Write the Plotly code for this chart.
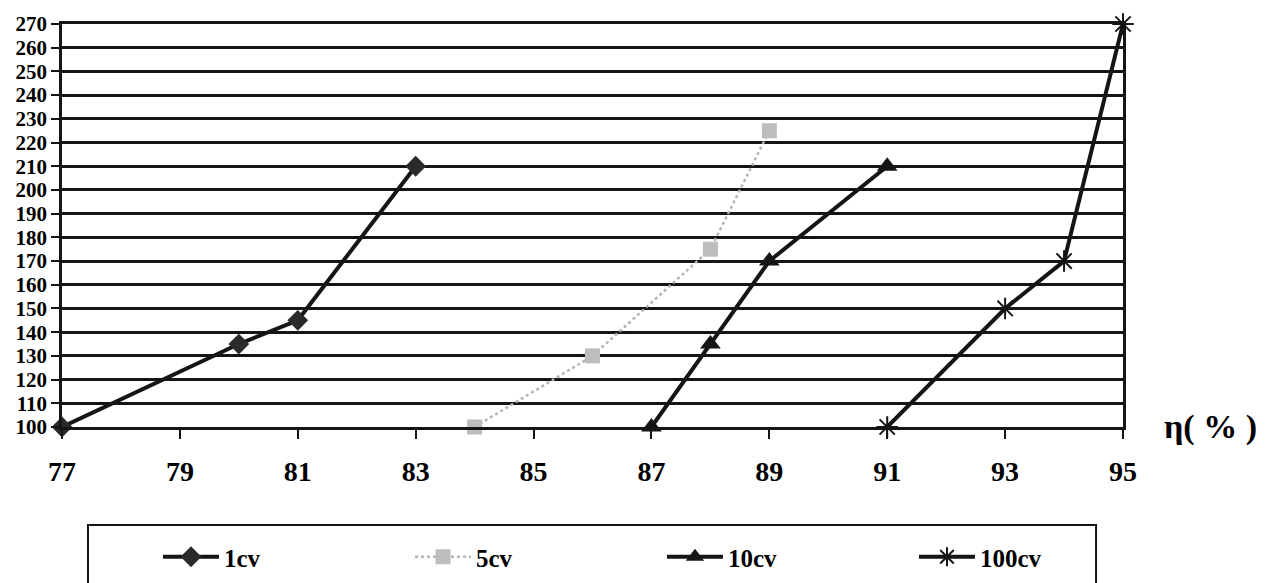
import plotly.graph_objects as go

x_1cv = [77, 80, 81, 83]
y_1cv = [100, 135, 145, 210]
x_5cv = [84, 86, 88, 89]
y_5cv = [100, 130, 175, 225]
x_10cv = [87, 88, 89, 91]
y_10cv = [100, 135, 170, 210]
x_100cv = [91, 93, 94, 95]
y_100cv = [100, 150, 170, 270]

x_ticks = [77, 79, 81, 83, 85, 87, 89, 91, 93, 95]
y_ticks = list(range(100, 271, 10))

FONT = "Liberation Serif"
BLACK = "#151515"
GREY = "#b4b4b4"

fig = go.Figure()
fig.add_trace(go.Scatter(x=x_1cv, y=y_1cv, name="<b>1cv</b>", mode="lines+markers",
                         line=dict(color=BLACK, width=4),
                         marker=dict(symbol="diamond", size=16, color="#2a2a2a"),
                         cliponaxis=False, legend="legend", showlegend=True))
fig.add_trace(go.Scatter(x=x_5cv, y=y_5cv, name="<b>5cv</b>", mode="lines+markers",
                         line=dict(color=GREY, width=2.5, dash="dot"),
                         marker=dict(symbol="square", size=15, color="#bdbdbd"),
                         cliponaxis=False, legend="legend2", showlegend=True))
fig.add_trace(go.Scatter(x=x_10cv, y=y_10cv, name="<b>10cv</b>", mode="lines+markers",
                         line=dict(color=BLACK, width=4),
                         marker=dict(symbol="triangle-up", size=18, color=BLACK),
                         cliponaxis=False, legend="legend3", showlegend=True))
fig.add_trace(go.Scatter(x=x_100cv, y=y_100cv, name="<b>100cv</b>", mode="lines+markers",
                         line=dict(color=BLACK, width=4),
                         marker=dict(symbol="asterisk-open", size=18, color=BLACK,
                                     line=dict(color=BLACK, width=2)),
                         cliponaxis=False, legend="legend4", showlegend=True))

fig.add_annotation(text="<b>η( % )</b>", xref="paper", yref="paper",
                   x=1.082, y=0.0, xanchor="center", yanchor="middle",
                   showarrow=False, font=dict(family=FONT, size=34, color="black"))

# legend frame
fig.add_shape(type="rect", xref="paper", yref="paper",
              x0=0.0245, x1=0.9746, y0=-0.392, y1=-0.2432,
              line=dict(color=BLACK, width=2), fillcolor="rgba(0,0,0,0)")

leg_common = dict(orientation="h", yanchor="middle", xanchor="left", y=-0.3226,
                  bgcolor="rgba(0,0,0,0)", borderwidth=0, itemwidth=56,
                  tracegroupgap=0, valign="middle",
                  font=dict(family=FONT, size=25, color="black"))

fig.update_layout(
    width=1277, height=583,
    margin=dict(l=62, r=154, t=24, b=156, autoexpand=False),
    paper_bgcolor="white", plot_bgcolor="white",
    showlegend=True,
    font=dict(family=FONT, color="black"),
    xaxis=dict(range=[77, 95], tickmode="array", tickvals=x_ticks,
               ticktext=[f"<b>{v}</b>" for v in x_ticks],
               tickfont=dict(family=FONT, size=28, color="black"),
               ticks="outside", ticklen=9, tickwidth=2, tickcolor=BLACK,
               ticklabelstandoff=9, automargin=False,
               showgrid=False, zeroline=False,
               showline=True, linecolor=BLACK, linewidth=2.5, mirror=True),
    yaxis=dict(range=[100, 270], tickmode="array", tickvals=y_ticks,
               ticktext=[f"<b>{v}</b>" for v in y_ticks],
               tickfont=dict(family=FONT, size=21, color="black"),
               ticks="outside", ticklen=8, tickwidth=2, tickcolor=BLACK,
               automargin=False,
               showgrid=True, gridcolor=BLACK, gridwidth=2.5, zeroline=False,
               showline=True, linecolor=BLACK, linewidth=2.5, mirror=True),
    legend=dict(x=0.0905, **leg_common),
    legend2=dict(x=0.3280, **leg_common),
    legend3=dict(x=0.5655, **leg_common),
    legend4=dict(x=0.8030, **leg_common),
)

fig.write_html("out.html")
